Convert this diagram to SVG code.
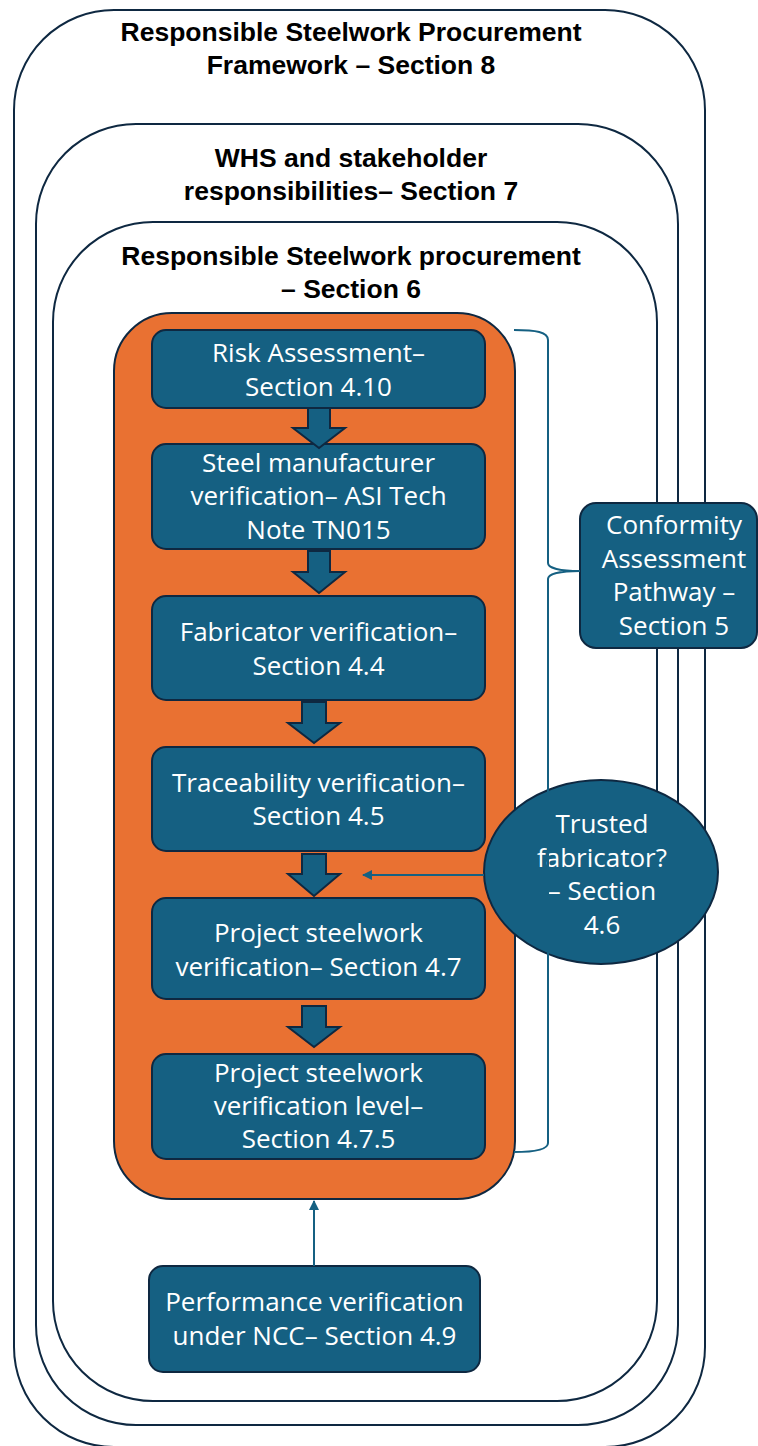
<svg xmlns="http://www.w3.org/2000/svg" width="758" height="1446" viewBox="0 0 758 1446">
  <style>
    .frame { fill: none; stroke: #0E2841; stroke-width: 2; }
    .title { font-family: "Liberation Sans", Arial, sans-serif; font-weight: bold; font-size: 26.5px; fill: #000; text-anchor: middle; }
    .box { fill: #156082; stroke: #0E2841; stroke-width: 2; }
    .label { font-family: "Open Sans", "Noto Sans", sans-serif; font-size: 26px; fill: #fff; text-anchor: middle; }
    .block { fill: #156082; stroke: #0E2841; stroke-width: 2; stroke-linejoin: miter; }
    .link { fill: none; stroke: #156082; stroke-width: 2; }
  </style>
  <defs>
    <marker id="head" viewBox="0 0 10 10" refX="9" refY="5" markerWidth="5" markerHeight="5" orient="auto">
      <path d="M0,0 L10,5 L0,10 z" fill="#156082"/>
    </marker>
  </defs>

  <rect width="758" height="1446" fill="#fff"/>

  <!-- Nested scope frames -->
  <g id="section8">
    <rect class="frame" x="14" y="10" width="691" height="1437" rx="100" ry="100"/>
    <text class="title" x="351" y="41">Responsible Steelwork Procurement</text>
    <text class="title" x="351" y="74">Framework – Section 8</text>
  </g>
  <g id="section7">
    <rect class="frame" x="36" y="124" width="642" height="1301" rx="100" ry="100"/>
    <text class="title" x="351" y="167">WHS and stakeholder</text>
    <text class="title" x="351" y="200">responsibilities– Section 7</text>
  </g>
  <g id="section6">
    <rect class="frame" x="53" y="222" width="604" height="1179" rx="100" ry="100"/>
    <text class="title" x="351" y="265">Responsible Steelwork procurement</text>
    <text class="title" x="351" y="298">– Section 6</text>
  </g>

  <!-- Verification pathway container -->
  <g id="pathway">
    <rect x="114" y="313" width="401" height="886" rx="58" ry="58" fill="#E97132" stroke="#0E2841" stroke-width="2"/>
  </g>

  <g id="risk">
    <rect class="box" x="152" y="330" width="333" height="78" rx="14"/>
    <text class="label" x="318.5" y="362">Risk Assessment–</text>
    <text class="label" x="318.5" y="396">Section 4.10</text>
  </g>
  <g id="manufacturer">
    <rect class="box" x="152" y="444" width="333" height="105" rx="14"/>
    <text class="label" x="318.5" y="472">Steel manufacturer</text>
    <text class="label" x="318.5" y="505">verification– ASI Tech</text>
    <text class="label" x="318.5" y="539">Note TN015</text>
  </g>
  <g id="fabricator">
    <rect class="box" x="152" y="596" width="333" height="104" rx="14"/>
    <text class="label" x="318.5" y="641">Fabricator verification–</text>
    <text class="label" x="318.5" y="675">Section 4.4</text>
  </g>
  <g id="traceability">
    <rect class="box" x="152" y="747" width="333" height="104" rx="14"/>
    <text class="label" x="318.5" y="792">Traceability verification–</text>
    <text class="label" x="318.5" y="825">Section 4.5</text>
  </g>
  <g id="project">
    <rect class="box" x="152" y="898" width="333" height="101" rx="14"/>
    <text class="label" x="318.5" y="942">Project steelwork</text>
    <text class="label" x="318.5" y="976">verification– Section 4.7</text>
  </g>
  <g id="level">
    <rect class="box" x="152" y="1054" width="333" height="105" rx="14"/>
    <text class="label" x="318.5" y="1082">Project steelwork</text>
    <text class="label" x="318.5" y="1115">verification level–</text>
    <text class="label" x="318.5" y="1148">Section 4.7.5</text>
  </g>

  <!-- Block arrows between steps -->
  <g id="steps">
    <polygon class="block" points="308,408 330,408 330,428 345,428 319,448 293,428 308,428"/>
    <polygon class="block" points="308,551 330,551 330,572 345,572 319,593 293,572 308,572"/>
    <polygon class="block" points="302,702 326,702 326,723 340,723 314,743 288,723 302,723"/>
    <polygon class="block" points="302,854 326,854 326,874 340,874 314,896 288,874 302,874"/>
    <polygon class="block" points="302,1006 326,1006 326,1027 340,1027 314,1047 288,1027 302,1027"/>
  </g>

  <g id="performance">
    <rect class="box" x="149" y="1266" width="331" height="106" rx="14"/>
    <text class="label" x="314.5" y="1311">Performance verification</text>
    <text class="label" x="314.5" y="1345">under NCC– Section 4.9</text>
  </g>

  <g id="conformity">
    <rect class="box" x="580" y="503" width="177" height="145" rx="16"/>
    <text class="label" x="674" y="534">Conformity</text>
    <text class="label" x="674" y="568">Assessment</text>
    <text class="label" x="674" y="601">Pathway –</text>
    <text class="label" x="674" y="635">Section 5</text>
  </g>

  <g id="trusted">
    <ellipse class="box" cx="601" cy="872" rx="117" ry="92"/>
    <text class="label" x="602" y="833">Trusted</text>
    <text class="label" x="602" y="867">fabricator?</text>
    <text class="label" x="602" y="900">– Section</text>
    <text class="label" x="602" y="934">4.6</text>
  </g>

  <!-- Connectors -->
  <g id="connectors">
    <path class="link" d="M514,330 C536,330 548,332 548,340 L548,563 C548,568 560,571 580,571 C560,571 548,574 548,579 L548,1143 C548,1149 536,1152 514,1152"/>
    <line class="link" x1="484" y1="875" x2="363" y2="875" marker-end="url(#head)"/>
    <line class="link" x1="314" y1="1266" x2="314" y2="1201" marker-end="url(#head)"/>
  </g>
</svg>
